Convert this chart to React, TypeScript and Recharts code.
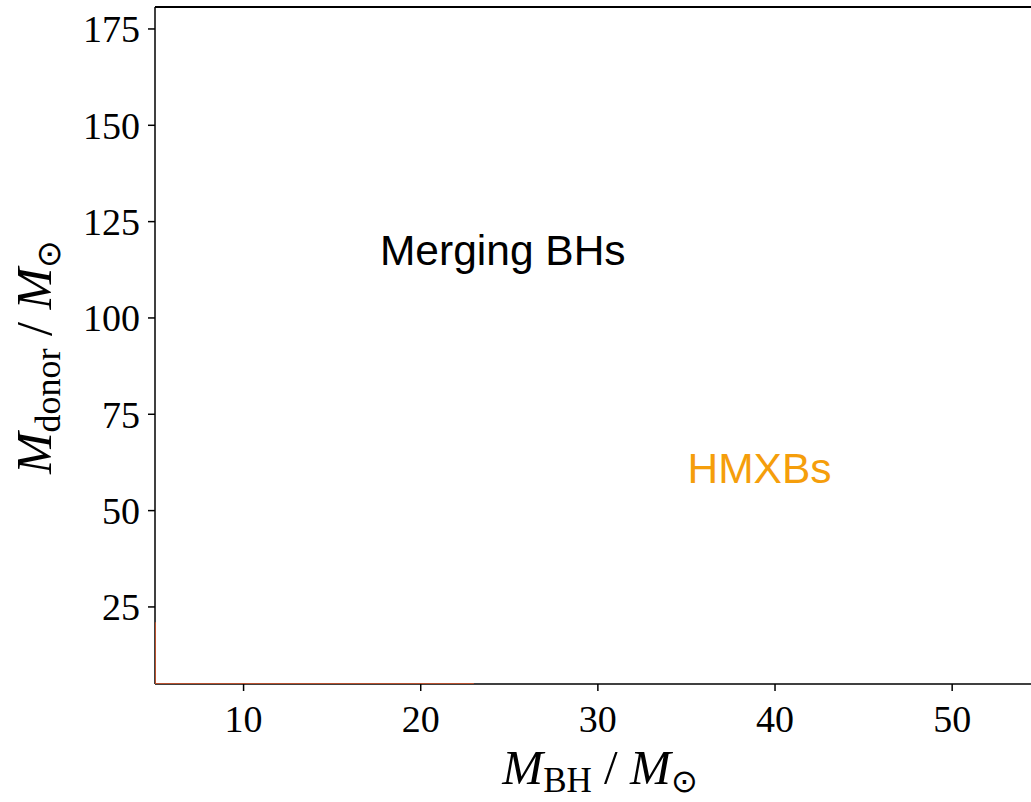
import React from 'react';
import {
  ComposedChart,
  Line,
  XAxis,
  YAxis,
  ReferenceDot,
  ReferenceLine,
} from 'recharts';

// axis ranges
const xDomain = [5, 54.45];
const yDomain = [5, 180.7];
const xTicks = [10, 20, 30, 40, 50];
const yTicks = [25, 50, 75, 100, 125, 150, 175];

// faint trace hugging the lower-left corner
const traceX = [5, 5, 23];
const traceY = [21, 5, 5];
const traceData = traceX.map((x, i) => ({ x, y: traceY[i] }));

// text annotations (left edge / baseline, data coords)
const notes = [
  { text: 'Merging BHs', x: 17.7, y: 113.7, color: '#000000' },
  { text: 'HMXBs', x: 35.06, y: 57.2, color: '#f59e0b' },
];

const SERIF = '"Liberation Serif", "Times New Roman", serif';
const SANS = '"Liberation Sans", Arial, sans-serif';

const XTitle = (props: any) => {
  const { viewBox } = props;
  const cx = viewBox.x + viewBox.width / 2 + 7;
  const y = viewBox.y + 100;
  return (
    <text x={cx} y={y} textAnchor="middle" fontFamily={SERIF} fontSize={49} fill="#000">
      <tspan fontStyle="italic">M</tspan>
      <tspan fontSize={35} dy={8}>BH</tspan>
      <tspan dy={-8}> / </tspan>
      <tspan fontStyle="italic">M</tspan>
      <tspan fontSize={32} dy={8}>⊙</tspan>
    </text>
  );
};

const YTitle = () => (
  <text
    transform="translate(51,357) rotate(-90)"
    x={0}
    y={0}
    textAnchor="middle"
    fontFamily={SERIF}
    fontSize={50}
    fill="#000"
  >
    <tspan fontStyle="italic">M</tspan>
    <tspan fontSize={36} dy={9}>donor</tspan>
    <tspan dy={-9}> / </tspan>
    <tspan fontStyle="italic">M</tspan>
    <tspan fontSize={33} dy={9}>⊙</tspan>
  </text>
);

const noteLabel = (text: string, color: string) => (props: any) => {
  const { viewBox } = props;
  return (
    <text x={viewBox.x} y={viewBox.y} fontFamily={SANS} fontSize={42.5} fill={color}>
      {text}
    </text>
  );
};

export default function App() {
  return (
    <div style={{ position: 'absolute', left: 0, top: 0, background: '#fff' }}>
      <ComposedChart
        width={1031}
        height={802}
        data={traceData}
        margin={{ top: 7, right: 0, bottom: 0, left: 0 }}
      >
        <XAxis
          type="number"
          dataKey="x"
          domain={xDomain}
          ticks={xTicks}
          allowDataOverflow
          height={118}
          tickSize={7}
          tickMargin={14}
          axisLine={{ stroke: '#000', strokeWidth: 1.5 }}
          tickLine={{ stroke: '#000', strokeWidth: 1.5 }}
          tick={{ fill: '#000', fontSize: 38, fontFamily: SERIF }}
          label={<XTitle />}
        />
        <YAxis
          type="number"
          dataKey="y"
          domain={yDomain}
          ticks={yTicks}
          allowDataOverflow
          width={155}
          tickSize={7}
          tickMargin={8}
          axisLine={{ stroke: '#000', strokeWidth: 1.5 }}
          tickLine={{ stroke: '#000', strokeWidth: 1.5 }}
          tick={{ fill: '#000', fontSize: 38, fontFamily: SERIF }}
          label={<YTitle />}
        />
        {/* top frame edge */}
        <ReferenceLine y={yDomain[1]} stroke="#000" strokeWidth={2} ifOverflow="extendDomain" />
        <Line
          type="linear"
          dataKey="y"
          stroke="#b8502e"
          strokeWidth={2}
          dot={false}
          isAnimationActive={false}
          zIndex={1000}
        />
        {notes.map((n) => (
          <ReferenceDot
            key={n.text}
            x={n.x}
            y={n.y}
            r={0}
            fill="none"
            stroke="none"
            label={noteLabel(n.text, n.color)}
          />
        ))}
      </ComposedChart>
    </div>
  );
}
